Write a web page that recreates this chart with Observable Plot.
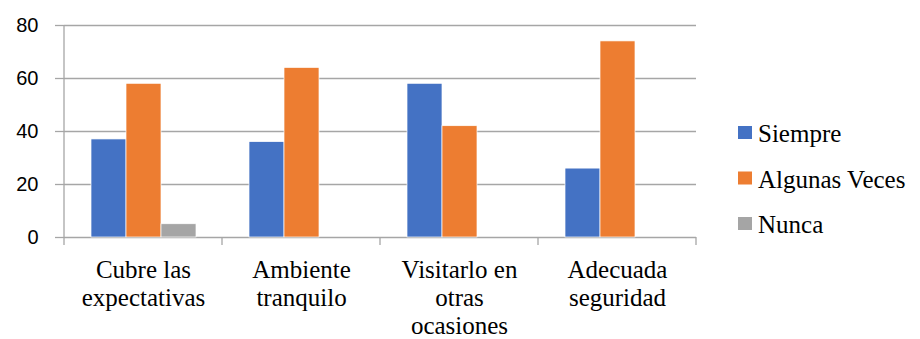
<!DOCTYPE html>
<html>
<head>
<meta charset="utf-8">
<script src="https://cdn.jsdelivr.net/npm/d3@7"></script>
<script src="https://cdn.jsdelivr.net/npm/@observablehq/plot@0.6"></script>
<style>
  html, body { margin: 0; padding: 0; background: #fff; }
  #chart { width: 920px; height: 339px; }
</style>
</head>
<body>
<div id="chart"></div>
<script>
// Survey answers per aspect, grouped by response frequency
const categories = ["Cubre las expectativas", "Ambiente tranquilo", "Visitarlo en otras ocasiones", "Adecuada seguridad"];
const categoryLabels = ["Cubre las\nexpectativas", "Ambiente\ntranquilo", "Visitarlo en\notras\nocasiones", "Adecuada\nseguridad"];
const series = ["Siempre", "Algunas Veces", "Nunca"];
const siempre = [37, 36, 58, 26];
const algunasVeces = [58, 64, 42, 74];
const nunca = [5, 0, 0, 0];
const colors = ["#4472C4", "#ED7D31", "#A5A5A5"];
const yTicks = [0, 20, 40, 60, 80];

const seriesValues = [siempre, algunasVeces, nunca];
const rows = categories.flatMap((category, i) =>
  series.map((s, j) => ({category, series: s, value: seriesValues[j][i]}))
);

const gridColor = "#a6a6a6";
const serifFont = "Liberation Serif";

const chart = Plot.plot({
  width: 920,
  height: 339,
  marginLeft: 63,
  marginRight: 224,
  marginTop: 25,
  marginBottom: 102,
  fontFamily: serifFont,
  fx: {domain: categories, padding: 0},
  x: {domain: series, paddingInner: 0, paddingOuter: 0.75, axis: null},
  y: {domain: [0, 80]},
  color: {domain: series, range: colors},
  marks: [
    Plot.gridY(yTicks, {stroke: gridColor, strokeOpacity: 1, strokeWidth: 1.3}),
    Plot.barY(rows, {
      fx: "category",
      x: "series",
      y: "value",
      fill: "series",
      filter: d => d.value > 0,
      stroke: "#fff",
      strokeWidth: 0.7
    }),
    Plot.axisY(yTicks, {
      tickSize: 9,
      tickPadding: 17,
      stroke: gridColor,
      strokeWidth: 1.3,
      strokeOpacity: 1,
      fontSize: 20,
      fontFamily: "Liberation Sans",
      label: null
    }),
    Plot.axisFx({
      anchor: "bottom",
      tickSize: 0,
      tickPadding: 21,
      tickFormat: c => categoryLabels[categories.indexOf(c)],
      fontSize: 25,
      fontFamily: serifFont,
      lineHeight: 1.12,
      label: null
    })
  ]
});

document.getElementById("chart").appendChild(chart);

const svg = d3.select(chart);

// Value axis line and category separators on the baseline
const fx = chart.scale("fx");
const y = chart.scale("y");
const y0 = y.apply(0);
const y80 = y.apply(80);
const left = fx.apply(categories[0]);
const edges = categories.map(c => fx.apply(c)).concat(fx.apply(categories[categories.length - 1]) + fx.bandwidth);

const axisG = svg.append("g").attr("stroke", gridColor).attr("stroke-width", 1.3);
axisG.append("line").attr("x1", left).attr("x2", left).attr("y1", y80).attr("y2", y0);
axisG.selectAll(".sep").data(edges).join("line")
  .attr("x1", d => d).attr("x2", d => d)
  .attr("y1", y0).attr("y2", y0 + 8);

// Legend to the right of the plot area
const legend = svg.append("g")
  .attr("text-anchor", "start")
  .attr("fill", "#000")
  .attr("font-family", serifFont)
  .attr("font-size", 25);
const item = legend.selectAll("g").data(series).join("g")
  .attr("transform", (d, i) => `translate(738, ${126 + i * 45.5})`);
item.append("rect").attr("width", 14).attr("height", 13).attr("fill", (d, i) => colors[i]);
item.append("text").attr("x", 20).attr("y", 16).text(d => d);
</script>
</body>
</html>
